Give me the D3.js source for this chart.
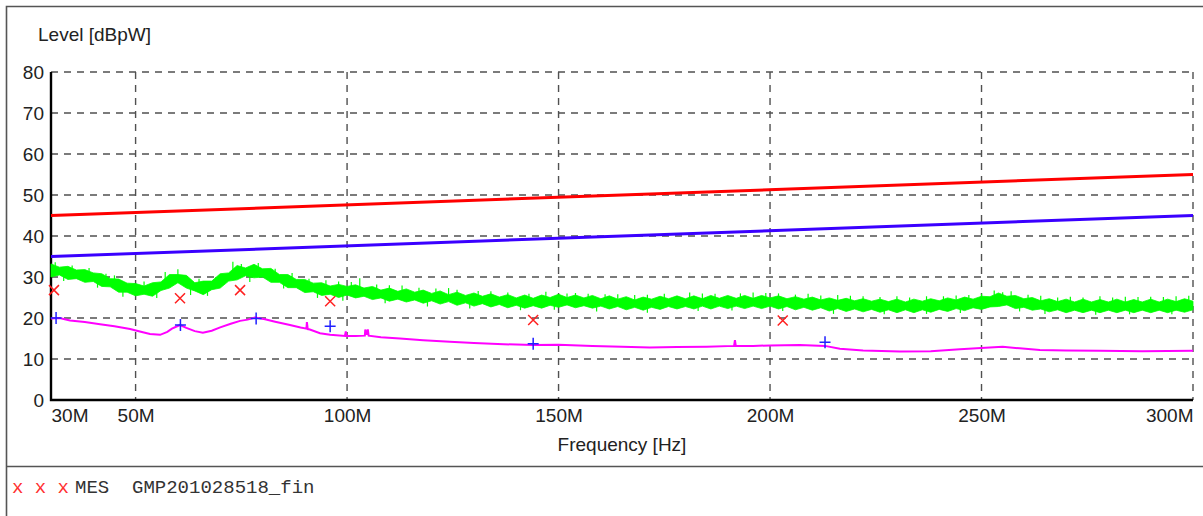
<!DOCTYPE html>
<html>
<head>
<meta charset="utf-8">
<script src="https://cdn.jsdelivr.net/npm/d3@7"></script>
<style>
  body { margin: 0; background: #fff; }
  text { font-family: "Liberation Sans", Arial, sans-serif; }
</style>
</head>
<body>
<script>
const m = { width: 1203, height: 516, left: 51, top: 72, right: 1193, bottom: 400 }

// limit lines (MHz, dBpW)
const limitRed = [[30, 45], [300, 55]]
const limitBlue = [[30, 35], [300, 45]]

// peak trace, sampled every 2 MHz from 30M to 300M: band top / bottom
const greenFreq = d3.range(30, 301, 2)
const greenHi = [33.2, 32.4, 32.6, 31.7, 31.8, 31.0, 30.8, 29.6, 29.5, 28.5,
  28.4, 27.8, 28.6, 28.8, 30.6, 30.6, 30.4, 28.6, 29.0, 29.0,
  30.8, 31.0, 32.8, 32.2, 33.1, 32.0, 32.1, 30.6, 30.6, 29.4,
  29.4, 28.5, 28.6, 27.8, 28.2, 27.7, 28.1, 27.3, 27.7, 26.8,
  27.3, 26.5, 27.1, 26.3, 26.8, 26.0, 26.6, 25.7, 26.3, 25.5,
  26.1, 25.3, 25.9, 25.1, 25.7, 24.9, 25.6, 24.8, 25.6, 25.0,
  25.8, 25.0, 25.6, 24.9, 25.5, 24.7, 25.4, 24.6, 25.2, 24.4,
  25.1, 24.6, 25.3, 24.7, 25.4, 24.7, 25.4, 24.7, 25.5, 24.8,
  25.5, 24.8, 25.5, 24.8, 25.5, 24.9, 25.4, 24.7, 25.2, 24.6,
  25.1, 24.4, 24.9, 24.3, 24.8, 24.2, 24.7, 24.1, 24.6, 24.0,
  24.6, 23.9, 24.6, 24.1, 24.7, 24.2, 24.9, 24.4, 25.1, 24.6,
  25.3, 25.2, 26.1, 25.3, 25.5, 24.7, 25.0, 24.2, 24.7, 24.0,
  24.6, 23.9, 24.6, 23.9, 24.5, 23.9, 24.6, 23.9, 24.5, 23.9,
  24.6, 23.9, 24.6, 24.0, 24.7, 24.1]
const greenLo = [30.0, 30.5, 29.4, 29.6, 28.7, 28.9, 27.7, 27.6, 26.3, 26.3,
  25.4, 25.8, 25.3, 26.7, 27.3, 28.6, 27.3, 26.6, 25.7, 26.9,
  27.3, 29.0, 29.3, 30.3, 29.8, 30.0, 28.7, 28.7, 27.4, 27.4,
  26.2, 26.4, 25.5, 25.8, 25.0, 25.6, 24.9, 25.3, 24.5, 24.9,
  24.1, 24.6, 23.9, 24.4, 23.6, 24.2, 23.4, 24.0, 23.1, 23.7,
  22.9, 23.5, 22.7, 23.3, 22.5, 23.1, 22.4, 23.0, 22.4, 23.1,
  22.6, 23.2, 22.5, 23.0, 22.4, 22.9, 22.2, 22.8, 22.0, 22.6,
  21.9, 22.6, 22.1, 22.8, 22.2, 22.8, 22.2, 22.9, 22.2, 22.9,
  22.3, 22.9, 22.3, 22.9, 22.3, 22.9, 22.2, 22.8, 22.0, 22.6,
  21.9, 22.5, 21.7, 22.3, 21.6, 22.2, 21.5, 22.1, 21.4, 22.0,
  21.3, 22.0, 21.3, 22.0, 21.4, 22.1, 21.6, 22.3, 21.8, 22.5,
  22.1, 22.7, 22.8, 23.2, 22.3, 22.6, 21.9, 22.2, 21.5, 22.0,
  21.3, 21.9, 21.3, 21.9, 21.3, 21.9, 21.3, 21.9, 21.3, 21.9,
  21.3, 21.9, 21.3, 21.9, 21.4, 22.0]
// single noise needles above / below the band
const greenSpikes = [[31, 33.6], [35, 32.8], [39, 32.2], [43, 30.8], [45, 30.4], [52, 28.9], [57, 31.2],
  [60, 31.9], [65, 29.6], [69, 30.0], [73, 33.7], [75, 33.2], [79, 33.4], [83, 32.0], [87, 31.0], [91, 29.6],
  [95, 29.2], [98, 28.9], [101, 28.8], [103, 29.7], [107, 28.2], [110, 28.0], [113, 27.9], [117, 27.4],
  [121, 27.2], [124, 27.3], [126, 26.9], [131, 26.6], [134, 26.5], [138, 26.2], [143, 25.9], [147, 26.4],
  [152, 26.0], [154, 26.1], [157, 25.9], [161, 25.8], [164, 25.8], [168, 25.6], [171, 25.7], [175, 25.9],
  [181, 26.2], [184, 26.0], [187, 25.9], [193, 26.0], [196, 26.2], [199, 26.1], [202, 26.0], [206, 25.7],
  [209, 25.9], [212, 25.5], [216, 25.6], [219, 25.4], [222, 25.3], [226, 25.1], [230, 25.3], [233, 25.0],
  [237, 25.3], [241, 25.3], [244, 25.5], [247, 25.6], [250, 25.9], [253, 26.7], [255, 26.3], [257, 26.5],
  [261, 25.7], [264, 25.4], [268, 25.0], [271, 25.2], [274, 25.0], [278, 25.3], [281, 25.0], [284, 25.2],
  [287, 25.1], [290, 25.2], [293, 25.1], [296, 25.3], [299, 25.4]]
const greenDips = [[33, 29.0], [41, 27.4], [47, 25.2], [55, 24.9], [63, 25.6], [67, 25.4], [77, 28.8],
  [85, 27.2], [93, 24.9], [99, 24.2], [109, 23.6], [119, 22.8], [129, 22.3], [141, 21.9], [149, 22.0],
  [159, 21.6], [171, 21.3], [183, 21.7], [191, 21.8], [203, 21.7], [215, 21.0], [227, 20.9], [237, 21.0],
  [245, 21.2], [259, 21.6], [265, 21.0], [277, 20.8], [285, 20.9], [295, 20.9]]

// average trace
const magenta = [[30, 19.9], [32, 20.0], [34.5, 19.4], [38, 19.0], [41.6, 18.5], [45, 18.0], [48.7, 17.3],
  [51, 16.7], [53.4, 16.1], [55.8, 15.9], [57.5, 16.6], [58.6, 17.4], [60.5, 18.3], [62, 17.6], [64, 16.8],
  [65.9, 16.4], [68, 16.9], [70, 17.7], [72.5, 18.6], [74.7, 19.3], [76.5, 19.6], [78.2, 20.1], [80.6, 19.7],
  [83, 19.1], [86.5, 18.3], [89, 17.7], [90.4, 17.4], [90.5, 19.0], [90.7, 17.3], [91.2, 17.2], [93.6, 16.3],
  [96, 15.9], [99.5, 15.6], [99.7, 16.7], [99.9, 15.6], [102, 15.6], [104.2, 15.7], [104.3, 17.2], [104.6, 15.9],
  [104.9, 17.2], [105.1, 15.7], [108, 15.3], [112.5, 15.0], [118, 14.6], [124.3, 14.2], [130, 13.9], [137, 13.6],
  [144, 13.4], [150, 13.5], [158, 13.2], [165, 13.0], [171.6, 12.8], [178, 12.9], [185, 13.0], [191.5, 13.2],
  [191.7, 14.6], [191.9, 13.2], [196, 13.2], [200, 13.3], [207, 13.4], [213, 13.2], [216.5, 12.5], [222, 12.1],
  [230.7, 11.8], [238, 11.9], [244.9, 12.4], [249.9, 12.7], [255, 13.0], [259, 12.6], [263.8, 12.2], [270, 12.1],
  [278, 12.0], [288, 11.9], [300, 12.0]]

// final measurement points
const mesPeak = [[30.7, 26.8], [60.5, 24.8], [74.7, 26.8], [96, 24.1], [144, 19.5], [203, 19.4]]
const mesAvg = [[31.2, 20.0], [60.6, 18.3], [78.5, 19.9], [96, 18.0], [144, 13.7], [213, 14.1]]

const xTicks = [30, 50, 100, 150, 200, 250, 300]
const xGrid = [50, 100, 150, 200, 250, 300]
const yTicks = [0, 10, 20, 30, 40, 50, 60, 70, 80]

const svg = d3.select('body').append('svg')
    .attr('width', m.width)
    .attr('height', m.height)

const x = d3.scaleLinear().domain([30, 300]).range([m.left, m.right])
const y = d3.scaleLinear().domain([0, 80]).range([m.bottom, m.top])

// outer frame
svg.append('path')
    .attr('d', `M${m.width},6.5 H6.5 V${m.height}`)
    .attr('fill', 'none')
    .attr('stroke', '#555')
    .attr('stroke-width', 1.6)
svg.append('line')
    .attr('x1', 6).attr('x2', m.width)
    .attr('y1', 466.5).attr('y2', 466.5)
    .attr('stroke', '#555')
    .attr('stroke-width', 1.6)

// grid
const grid = svg.append('g')
    .attr('stroke', '#505050')
    .attr('stroke-width', 1.4)
    .attr('stroke-dasharray', '7,6')
grid.selectAll('.hg')
    .data(yTicks.filter(d => d > 0))
    .enter()
    .append('line')
    .attr('x1', m.left).attr('x2', m.right)
    .attr('y1', d => y(d)).attr('y2', d => y(d))
grid.selectAll('.vg')
    .data(xGrid)
    .enter()
    .append('line')
    .attr('x1', d => x(d)).attr('x2', d => x(d))
    .attr('y1', m.top).attr('y2', m.bottom)

// axes
const yAxis = d3.axisLeft(y).tickValues(yTicks).tickSize(0).tickPadding(7)
const ya = svg.append('g').attr('transform', `translate(${m.left},0)`).call(yAxis)
ya.select('.domain').remove()
ya.selectAll('text')
    .attr('font-size', '19px')
    .attr('font-family', '"Liberation Sans", Arial, sans-serif')
    .attr('fill', '#222')

const xAxis = d3.axisBottom(x).tickValues(xTicks).tickSize(0).tickPadding(9)
    .tickFormat(d => d + 'M')
const xa = svg.append('g').attr('transform', `translate(0,${m.bottom})`).call(xAxis)
xa.select('.domain').remove()
xa.selectAll('text')
    .attr('font-size', '19px')
    .attr('font-family', '"Liberation Sans", Arial, sans-serif')
    .attr('fill', '#222')
    .attr('text-anchor', d => d == 30 ? 'start' : d == 300 ? 'end' : 'middle')

svg.append('path')
    .attr('d', `M${m.left},${m.top} V${m.bottom} H${m.right}`)
    .attr('fill', 'none')
    .attr('stroke', '#000')
    .attr('stroke-width', 2.4)

// peak trace band
const band = greenFreq.map((f, i) => [f, greenLo[i], greenHi[i]])
svg.append('path')
    .datum(band)
    .attr('d', d3.area().x(d => x(d[0])).y0(d => y(d[1])).y1(d => y(d[2])))
    .attr('fill', '#00ff00')
    .attr('stroke', '#00ff00')
    .attr('stroke-width', 0.8)
svg.selectAll('.spike')
    .data(greenSpikes)
    .enter()
    .append('line')
    .attr('x1', d => x(d[0])).attr('x2', d => x(d[0]))
    .attr('y1', d => y(d[1])).attr('y2', d => y(d[1] - 2.5))
    .attr('stroke', '#00ff00')
    .attr('stroke-width', 1.2)
svg.selectAll('.dip')
    .data(greenDips)
    .enter()
    .append('line')
    .attr('x1', d => x(d[0])).attr('x2', d => x(d[0]))
    .attr('y1', d => y(d[1])).attr('y2', d => y(d[1] + 2.5))
    .attr('stroke', '#00ff00')
    .attr('stroke-width', 1.2)

const line = d3.line().x(d => x(d[0])).y(d => y(d[1]))

svg.append('path').datum(magenta)
    .attr('d', line)
    .attr('fill', 'none')
    .attr('stroke', '#ff00ff')
    .attr('stroke-width', 2)

svg.append('path').datum(limitRed)
    .attr('d', line)
    .attr('fill', 'none')
    .attr('stroke', '#ff0000')
    .attr('stroke-width', 3)

svg.append('path').datum(limitBlue)
    .attr('d', line)
    .attr('fill', 'none')
    .attr('stroke', '#3a00ff')
    .attr('stroke-width', 3)

// markers
svg.selectAll('.xm')
    .data(mesPeak)
    .enter()
    .append('path')
    .attr('d', d => {
        let cx = x(d[0]), cy = y(d[1])
        return `M${cx - 5},${cy - 5} L${cx + 5},${cy + 5} M${cx + 5},${cy - 5} L${cx - 5},${cy + 5}`
    })
    .attr('stroke', '#ff2020')
    .attr('stroke-width', 1.5)

svg.selectAll('.pm')
    .data(mesAvg)
    .enter()
    .append('path')
    .attr('d', d => {
        let cx = x(d[0]), cy = y(d[1])
        return `M${cx - 5.5},${cy} H${cx + 5.5} M${cx},${cy - 6} V${cy + 6}`
    })
    .attr('stroke', '#2020ff')
    .attr('stroke-width', 1.5)

// titles
svg.append('text')
    .attr('x', 38)
    .attr('y', 41)
    .attr('font-size', '19px')
    .attr('fill', '#222')
    .text('Level [dBpW]')

svg.append('text')
    .attr('x', (m.left + m.right) / 2)
    .attr('y', 451)
    .attr('text-anchor', 'middle')
    .attr('font-size', '19px')
    .attr('fill', '#222')
    .text('Frequency [Hz]')

// legend
svg.append('text')
    .attr('x', 12)
    .attr('y', 493)
    .style('font-family', '"Liberation Mono", "Courier New", monospace')
    .attr('font-size', '19px')
    .attr('fill', '#ff3030')
    .style('white-space', 'pre')
    .text('x x x')
svg.append('text')
    .attr('x', 75)
    .attr('y', 493)
    .style('font-family', '"Liberation Mono", "Courier New", monospace')
    .attr('font-size', '19px')
    .attr('fill', '#333')
    .style('white-space', 'pre')
    .text('MES  GMP201028518_fin')
</script>
</body>
</html>
